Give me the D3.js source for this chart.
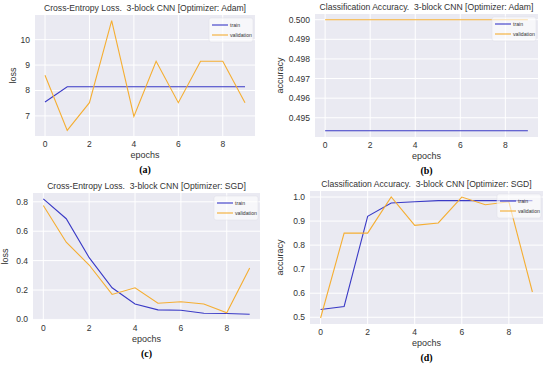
<!DOCTYPE html>
<html>
<head>
<meta charset="utf-8">
<script src="https://cdn.jsdelivr.net/npm/d3@7"></script>
<style>
  body { margin: 0; background: #fff; }
  text { font-family: "Liberation Sans", Arial, sans-serif; fill: #333; white-space: pre; }
</style>
</head>
<body>
<svg id="chart" width="550" height="366"></svg>
<script>
// epochs shared by all four panels
var epochs = [0, 1, 2, 3, 4, 5, 6, 7, 8, 9]
var xTicks = [0, 2, 4, 6, 8]

// (a) loss, Adam
var adamLossTrain = [7.55, 8.15, 8.15, 8.15, 8.15, 8.15, 8.15, 8.15, 8.15, 8.15]
var adamLossVal = [8.6, 6.43, 7.52, 10.75, 6.98, 9.15, 7.52, 9.15, 9.15, 7.52]
// (b) accuracy, Adam
var adamAccTrain = [0.49434, 0.49434, 0.49434, 0.49434, 0.49434, 0.49434, 0.49434, 0.49434, 0.49434, 0.49434]
var adamAccVal = [0.5, 0.5, 0.5, 0.5, 0.5, 0.5, 0.5, 0.5, 0.5, 0.5]
// (c) loss, SGD
var sgdLossTrain = [0.82, 0.685, 0.42, 0.215, 0.105, 0.065, 0.062, 0.042, 0.04, 0.035]
var sgdLossVal = [0.775, 0.525, 0.37, 0.17, 0.215, 0.11, 0.12, 0.105, 0.045, 0.35]
// (d) accuracy, SGD
var sgdAccTrain = [0.532, 0.545, 0.92, 0.975, 0.98, 0.985, 0.985, 0.985, 0.985, 0.985]
var sgdAccVal = [0.497, 0.85, 0.85, 1.0, 0.882, 0.892, 1.0, 0.968, 0.98, 0.605]

var trainColor = '#3a3ac6',
	valColor = '#f5ae32'

var svg = d3.select('#chart')

function drawPanel(p) {
	var x = d3.scaleLinear().domain([-0.45, 9.45]).range([p.left, p.right]),
		y = d3.scaleLinear().domain(p.yDomain).range([p.bottom, p.top])
	var g = svg.append('g')

	g.append('rect')
		.attr('x', p.left).attr('y', p.top)
		.attr('width', p.right - p.left).attr('height', p.bottom - p.top)
		.attr('fill', '#eaeaf2')

	// grid
	g.selectAll('.vg').data(xTicks).enter().append('line')
		.attr('x1', function(d) { return x(d) }).attr('x2', function(d) { return x(d) })
		.attr('y1', p.top).attr('y2', p.bottom)
		.attr('stroke', '#fff').attr('stroke-width', 1)
	g.selectAll('.hg').data(p.yTicks).enter().append('line')
		.attr('x1', p.left).attr('x2', p.right)
		.attr('y1', function(d) { return y(d) }).attr('y2', function(d) { return y(d) })
		.attr('stroke', '#fff').attr('stroke-width', 1)

	// tick labels
	g.selectAll('.xt').data(xTicks).enter().append('text')
		.attr('x', function(d) { return x(d) }).attr('y', p.bottom + 11)
		.attr('text-anchor', 'middle').attr('font-size', 8.5)
		.text(function(d) { return d })
	g.selectAll('.yt').data(p.yTicks).enter().append('text')
		.attr('x', p.left - 5).attr('y', function(d) { return y(d) + 3 })
		.attr('text-anchor', 'end').attr('font-size', 8.5)
		.text(d3.format(p.yFormat))

	var line = d3.line()
		.x(function(d, i) { return x(epochs[i]) })
		.y(function(d) { return y(d) })

	g.append('path').datum(p.train).attr('d', line)
		.attr('fill', 'none').attr('stroke', trainColor).attr('stroke-width', 1.1)
	g.append('path').datum(p.val).attr('d', line)
		.attr('fill', 'none').attr('stroke', valColor).attr('stroke-width', 1.1)

	// title and axis labels
	g.append('text')
		.attr('x', (p.left + p.right) / 2).attr('y', p.top - 4)
		.attr('text-anchor', 'middle').attr('font-size', 8.6)
		.text(p.title)
	g.append('text')
		.attr('x', (p.left + p.right) / 2).attr('y', p.bottom + 22)
		.attr('text-anchor', 'middle').attr('font-size', 9)
		.text('epochs')
	g.append('text')
		.attr('transform', 'translate(' + p.ylabX + ',' + (p.top + p.bottom) / 2 + ') rotate(-90)')
		.attr('text-anchor', 'middle').attr('font-size', 9)
		.text(p.ylab)
	g.append('text')
		.attr('x', (p.left + p.right) / 2).attr('y', p.bottom + 37)
		.attr('text-anchor', 'middle').attr('font-size', 10)
		.attr('font-weight', 'bold')
		.style('font-family', '"Liberation Serif", "DejaVu Serif", serif')
		.style('fill', '#000')
		.text(p.tag)

	// legend
	var lx = p.right - 46, ly = p.top + 3
	g.append('rect')
		.attr('x', lx).attr('y', ly).attr('width', 44).attr('height', 24).attr('rx', 2)
		.attr('fill', '#fff').attr('fill-opacity', 0.6)
		.attr('stroke', '#dcdce6').attr('stroke-width', 0.5)
	var entries = [['train', trainColor], ['validation', valColor]]
	entries.forEach(function(e, i) {
		var yy = ly + 7 + i * 10
		g.append('line')
			.attr('x1', lx + 3).attr('x2', lx + 19).attr('y1', yy).attr('y2', yy)
			.attr('stroke', e[1]).attr('stroke-width', 1.1)
		g.append('text')
			.attr('x', lx + 21).attr('y', yy + 1.8)
			.attr('font-size', 5.2).text(e[0])
	})
}

drawPanel({
	left: 35, right: 255, top: 15, bottom: 136,
	yDomain: [6.21, 10.97], yTicks: [7, 8, 9, 10], yFormat: 'd',
	train: adamLossTrain, val: adamLossVal,
	title: 'Cross-Entropy Loss.  3-block CNN [Optimizer: Adam]',
	ylab: 'loss', ylabX: 16, tag: '(a)'
})
drawPanel({
	left: 315, right: 538, top: 14, bottom: 137,
	yDomain: [0.49402, 0.50029], yTicks: [0.495, 0.496, 0.497, 0.498, 0.499, 0.500], yFormat: '.3f',
	train: adamAccTrain, val: adamAccVal,
	title: 'Classification Accuracy.  3-block CNN [Optimizer: Adam]',
	ylab: 'accuracy', ylabX: 283, tag: '(b)'
})
drawPanel({
	left: 33, right: 260, top: 193, bottom: 320,
	yDomain: [-0.004, 0.86], yTicks: [0, 0.2, 0.4, 0.6, 0.8], yFormat: '.1f',
	train: sgdLossTrain, val: sgdLossVal,
	title: 'Cross-Entropy Loss.  3-block CNN [Optimizer: SGD]',
	ylab: 'loss', ylabX: 8, tag: '(c)'
})
drawPanel({
	left: 310, right: 543, top: 191, bottom: 324,
	yDomain: [0.472, 1.025], yTicks: [0.5, 0.6, 0.7, 0.8, 0.9, 1.0], yFormat: '.1f',
	train: sgdAccTrain, val: sgdAccVal,
	title: 'Classification Accuracy.  3-block CNN [Optimizer: SGD]',
	ylab: 'accuracy', ylabX: 283, tag: '(d)'
})
</script>
</body>
</html>
